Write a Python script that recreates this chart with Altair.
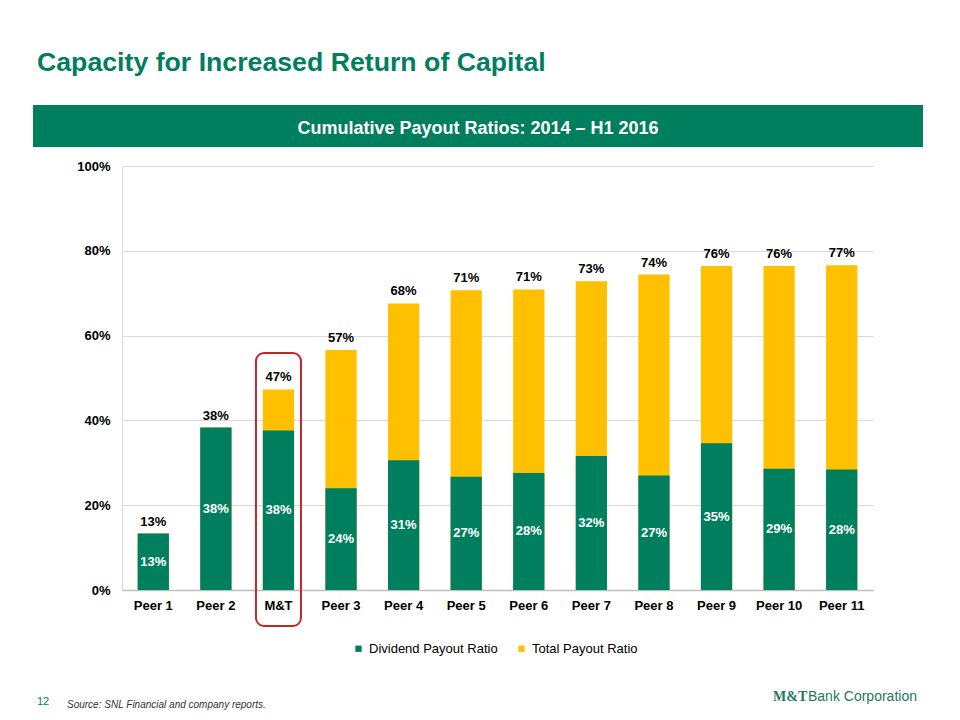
import altair as alt
import pandas as pd

categories = ["Peer 1", "Peer 2", "M&T", "Peer 3", "Peer 4", "Peer 5", "Peer 6",
              "Peer 7", "Peer 8", "Peer 9", "Peer 10", "Peer 11"]
dividend = [0.133, 0.383, 0.376, 0.240, 0.306, 0.267, 0.276, 0.316, 0.270, 0.346, 0.286, 0.284]
total = [0.133, 0.383, 0.473, 0.566, 0.676, 0.707, 0.709, 0.728, 0.744, 0.764, 0.764, 0.766]
series_names = ["Dividend Payout Ratio", "Total Payout Ratio"]
y_ticks = [0, 0.2, 0.4, 0.6, 0.8, 1.0]

title_text = "Capacity for Increased Return of Capital"
banner_text = "Cumulative Payout Ratios: 2014 \u2013 H1 2016"
source_text = "Source: SNL Financial and company reports."
page_no = "12"

GREEN = "#007F5F"
YELLOW = "#FFC000"
FONT = "Liberation Sans"

wide = pd.DataFrame({"cat": categories, "dividend": dividend, "total": total})
long = pd.concat([
    pd.DataFrame({"cat": categories, "series": series_names[1], "value": total}),
    pd.DataFrame({"cat": categories, "series": series_names[0], "value": dividend}),
], ignore_index=True)

xenc = alt.X("cat:N", sort=categories,
             scale=alt.Scale(paddingInner=0.5, paddingOuter=0.25),
             axis=alt.Axis(title=None, labelAngle=0, labelFontSize=13, labelFontWeight="bold",
                           labelColor="#000000", labelPadding=9, ticks=False,
                           domainColor="#BFBFBF", domainWidth=1.5, grid=False))
yscale = alt.Scale(domain=[0, 1])

bars = alt.Chart(long).mark_bar().encode(
    x=xenc,
    y=alt.Y("value:Q", stack=None, scale=yscale,
            axis=alt.Axis(title=None, values=y_ticks, format=".0%", labelFontSize=13,
                          labelFontWeight="bold", labelColor="#000000", labelPadding=12,
                          ticks=False, domainColor="#D9D9D9", gridColor="#D9D9D9",
                          gridWidth=1)),
    color=alt.Color("series:N",
                    scale=alt.Scale(domain=series_names, range=[GREEN, YELLOW]),
                    legend=alt.Legend(title=None, orient="none", legendX=230, legendY=476,
                                      direction="horizontal", symbolType="square",
                                      symbolSize=40, labelFontSize=13, labelColor="#000000",
                                      labelOffset=4, columnPadding=17)),
)

total_labels = alt.Chart(wide).mark_text(
    dy=-8, baseline="alphabetic", fontSize=13, fontWeight="bold", color="#000000"
).encode(
    x=alt.X("cat:N", sort=categories),
    y=alt.Y("total:Q", scale=yscale),
    text=alt.Text("total:Q", format=".0%"),
)

div_labels = alt.Chart(wide).transform_calculate(
    mid="datum.dividend / 2"
).mark_text(
    baseline="middle", fontSize=13, fontWeight="bold", color="#FFFFFF"
).encode(
    x=alt.X("cat:N", sort=categories),
    y=alt.Y("mid:Q", scale=yscale),
    text=alt.Text("dividend:Q", format=".0%"),
)

highlight = alt.Chart(wide).transform_filter(
    "datum.cat == 'M&T'"
).mark_bar(width=45, cornerRadius=8, fillOpacity=0, stroke="#C0272D", strokeWidth=2).encode(
    x=alt.X("cat:N", sort=categories),
    y=alt.value(187),
    y2=alt.value(460),
)

deco = pd.DataFrame({"title": [title_text], "banner": [banner_text],
                     "source": [source_text], "page": [page_no],
                     "logo1": ["M&T"], "logo2": ["Bank Corporation"]})

title = alt.Chart(deco).mark_text(
    align="left", baseline="alphabetic", fontSize=26.7, fontWeight="bold", color=GREEN
).encode(x=alt.value(-85), y=alt.value(-95), text="title:N")

banner = alt.Chart(deco).mark_rect(color=GREEN).encode(
    x=alt.value(-89), x2=alt.value(801), y=alt.value(-61), y2=alt.value(-19))

banner_label = alt.Chart(deco).mark_text(
    align="center", baseline="middle", fontSize=18, fontWeight="bold", color="#FFFFFF"
).encode(x=alt.value(356), y=alt.value(-37), text="banner:N")

page_label = alt.Chart(deco).mark_text(
    align="left", baseline="middle", fontSize=11, color=GREEN
).encode(x=alt.value(-85), y=alt.value(536), text="page:N")

source_label = alt.Chart(deco).mark_text(
    align="left", baseline="middle", fontSize=10, fontStyle="italic", color="#333333"
).encode(x=alt.value(-55), y=alt.value(539), text="source:N")

logo1 = alt.Chart(deco).mark_text(
    align="left", baseline="middle", fontSize=14, fontWeight="bold",
    font="Liberation Serif", color="#1F7A5C"
).encode(x=alt.value(651), y=alt.value(531), text="logo1:N")

logo2 = alt.Chart(deco).mark_text(
    align="left", baseline="middle", fontSize=14, color="#1F7A5C"
).encode(x=alt.value(686), y=alt.value(531), text="logo2:N")

chart = alt.layer(
    bars, total_labels, div_labels, highlight,
    banner, title, banner_label, page_label, source_label, logo1, logo2
).properties(
    width=751, height=424,
    autosize=alt.AutoSizeParams(type="none"),
    padding={"left": 114, "top": 158, "right": 79, "bottom": 122},
).configure(font=FONT).configure_view(strokeWidth=0)

chart.save("out.html", embed_options={"renderer": "svg", "actions": False})
